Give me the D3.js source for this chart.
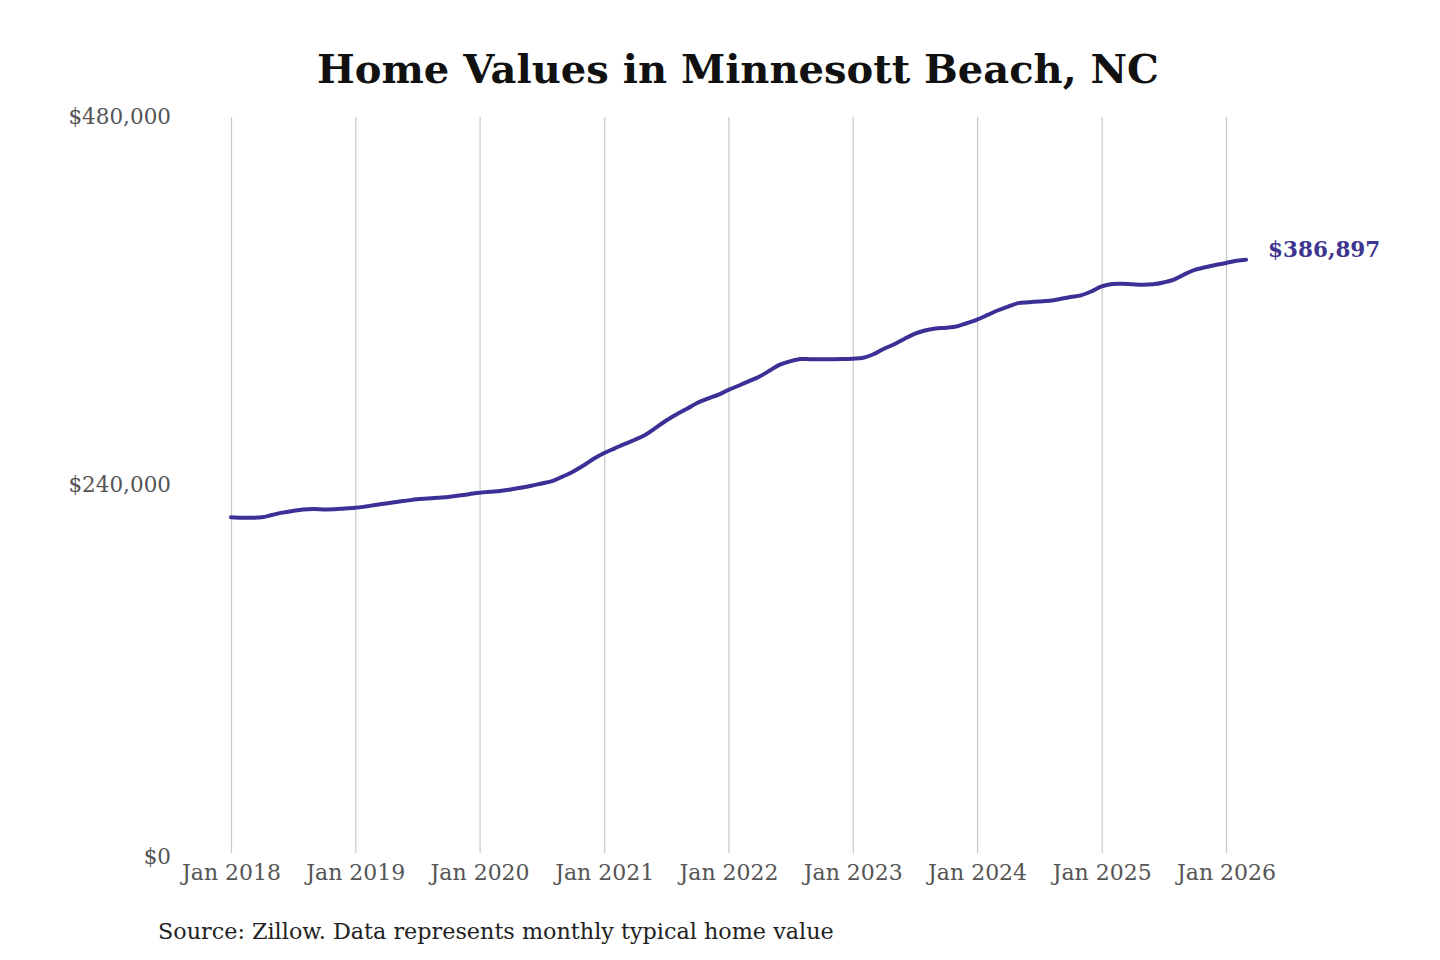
<!DOCTYPE html>
<html lang="en">
	<head>
		<meta charset="utf-8">
		<title>Home Values in Minnesott Beach, NC</title>
		<script type="text/javascript" src="https://cdn.jsdelivr.net/npm/d3@7"></script>
		<style>
			body { margin: 0; background: #fff; }
			text { font-family: "DejaVu Serif", serif; }
		</style>
	</head>
	<body>
		<script type="text/javascript">
			// monthly typical home value, Jan 2018 .. Mar 2026
			var startMonth = "2018-01";
			var homeValues = [
				219000, 218700, 218700, 218900, 220400, 222000, 223100, 224000, 224300, 224100, 224200, 224700,
				225100, 226000, 227000, 228000, 228900, 229800, 230700, 231200, 231700, 232200, 233100, 234000,
				235000, 235600, 236100, 237100, 238200, 239500, 241000, 242500, 245500, 248700, 252700, 257100,
				260900, 263900, 266700, 269500, 272600, 277200, 281900, 286000, 289700, 293500, 296400, 298800,
				302000, 304900, 307600, 310600, 314500, 318500, 320700, 322200, 322000, 322000, 322000, 322100,
				322400, 323000, 325100, 328700, 331600, 335200, 338500, 340800, 342000, 342600, 343400, 345500,
				347900, 350900, 353800, 356400, 358600, 359200, 359700, 360200, 361300, 362600, 363700, 366200,
				369500, 371100, 371300, 370900, 370600, 370900, 372100, 374000, 377400, 380300, 382000, 383500,
				384800, 386300, 386897
			];
			var yTicks = [0, 240000, 480000];
			var xTickYears = [2018, 2019, 2020, 2021, 2022, 2023, 2024, 2025, 2026];

			var w = 1440;
			var h = 960;
			var margin = {top: 117, right: 194, bottom: 107, left: 231};

			var parseMonth = d3.timeParse("%Y-%m");
			var t0 = parseMonth(startMonth);
			var data = homeValues.map(function(v, i) {
				return {date: d3.timeMonth.offset(t0, i), value: v};
			});

			var svg = d3.select("body")
				.append("svg")
				.attr("width", w)
				.attr("height", h);

			var x = d3.scaleTime()
				.domain([t0, new Date(2026, 0, 1)])
				.range([margin.left, 1226]);

			var y = d3.scaleLinear()
				.domain([0, 480000])
				.range([h - margin.bottom, margin.top]);

			// vertical grid + x labels
			var xAxis = d3.axisBottom(x)
				.tickValues(xTickYears.map(function(yr) { return new Date(yr, 0, 1); }))
				.tickFormat(d3.timeFormat("Jan %Y"))
				.tickSize(-(y(0) - y(480000)))
				.tickPadding(10);

			var gx = svg.append("g")
				.attr("transform", "translate(0," + y(0) + ")")
				.call(xAxis);
			gx.select(".domain").remove();
			gx.selectAll(".tick line")
				.attr("stroke", "#c8c8c8")
				.attr("stroke-width", 1.2);
			gx.selectAll(".tick text")
				.attr("fill", "#555")
				.attr("font-size", "22px")
				.attr("font-family", "DejaVu Serif, serif")
				.attr("dy", "0.75em");

			// y labels, no lines
			var yAxis = d3.axisLeft(y)
				.tickValues(yTicks)
				.tickFormat(function(d) { return "$" + d3.format(",")(d); })
				.tickSize(0)
				.tickPadding(60);

			var gy = svg.append("g")
				.attr("transform", "translate(" + margin.left + ",0)")
				.call(yAxis);
			gy.select(".domain").remove();
			gy.selectAll(".tick text")
				.attr("fill", "#555")
				.attr("font-size", "21.5px")
				.attr("font-family", "DejaVu Serif, serif")
				.attr("dy", function(d) { return d === 0 ? "0.5em" : "0.32em"; });

			var line = d3.line()
				.curve(d3.curveCatmullRom)
				.x(function(d) { return x(d.date); })
				.y(function(d) { return y(d.value); });

			svg.append("path")
				.datum(data)
				.attr("d", line)
				.attr("fill", "none")
				.attr("stroke", "#3b3096")
				.attr("stroke-width", 4)
				.attr("stroke-linecap", "round")
				.attr("stroke-linejoin", "round");

			var last = data[data.length - 1];
			svg.append("text")
				.attr("x", x(last.date) + 22)
				.attr("y", y(last.value) - 3)
				.attr("font-size", "21.5px")
				.attr("font-weight", "bold")
				.attr("fill", "#3d3590")
				.text("$" + d3.format(",")(last.value));

			svg.append("text")
				.attr("x", 738)
				.attr("y", 83)
				.attr("text-anchor", "middle")
				.attr("font-size", "40px")
				.attr("font-weight", "bold")
				.attr("fill", "#111")
				.text("Home Values in Minnesott Beach, NC");

			svg.append("text")
				.attr("x", 158)
				.attr("y", 939)
				.attr("font-size", "22.3px")
				.attr("fill", "#222")
				.text("Source: Zillow. Data represents monthly typical home value");
		</script>
	</body>
</html>
